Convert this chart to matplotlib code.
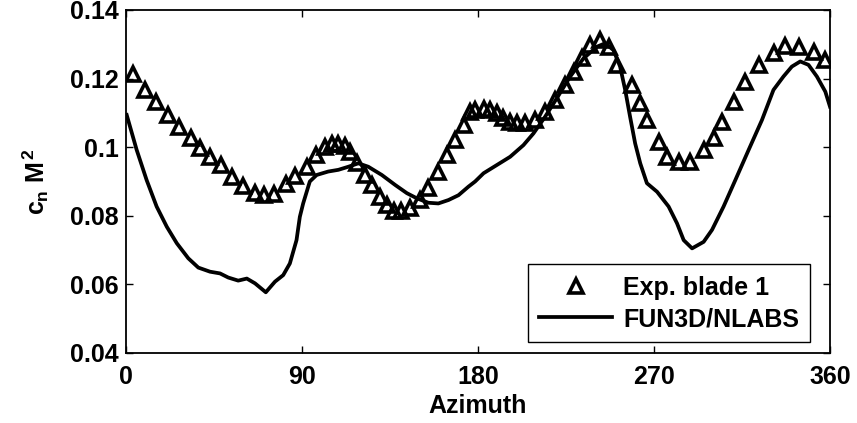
import matplotlib
matplotlib.use('Agg')
import matplotlib.pyplot as plt

exp_azimuth = [3.9, 9.9, 15.5, 21.5, 27.4, 33.2, 38.0, 43.1, 48.6, 54.2, 59.8, 66.1,
               70.7, 75.8, 81.8, 86.6, 92.6, 97.2, 101.9, 105.6, 108.7, 112.1, 114.7,
               118.1, 122.4, 126.1, 130.0, 133.5, 137.2, 140.8, 145.4, 150.5, 154.7,
               159.5, 164.1, 168.4, 172.7, 176.1, 178.6, 182.9, 186.3, 189.7, 193.1,
               196.5, 200.0, 204.2, 209.3, 214.4, 219.5, 224.7, 228.9, 233.2, 237.4,
               242.5, 246.8, 251.1, 258.7, 263.0, 266.4, 272.4, 276.7, 282.6, 288.6,
               295.4, 300.5, 304.8, 310.7, 316.7, 323.5, 331.2, 337.2, 344.3, 351.6,
               357.6]
exp_cnm2 = [0.1213, 0.1167, 0.1133, 0.1094, 0.1060, 0.1028, 0.0997, 0.0972, 0.0948,
            0.0914, 0.0888, 0.0866, 0.0861, 0.0864, 0.0893, 0.0916, 0.0943, 0.0977,
            0.1001, 0.1009, 0.1009, 0.1003, 0.0987, 0.0953, 0.0919, 0.0890, 0.0856,
            0.0831, 0.0815, 0.0815, 0.0822, 0.0846, 0.0880, 0.0929, 0.0977, 0.1021,
            0.1065, 0.1104, 0.1108, 0.1111, 0.1108, 0.1099, 0.1084, 0.1074, 0.1070,
            0.1070, 0.1079, 0.1104, 0.1138, 0.1181, 0.1220, 0.1259, 0.1298, 0.1313,
            0.1293, 0.1240, 0.1181, 0.1128, 0.1079, 0.1016, 0.0972, 0.0958, 0.0958,
            0.0992, 0.1026, 0.1074, 0.1133, 0.1191, 0.1240, 0.1274, 0.1295, 0.1293,
            0.1278, 0.1254]

# FUN3D/NLABS prediction
cfd_azimuth = [0.5, 5.6, 10.7, 15.8, 21.0, 26.1, 32.0, 37.1, 43.1, 48.2, 52.4, 57.5,
               61.9, 66.1, 71.6, 76.3, 80.5, 83.9, 87.3, 89.0, 90.7, 94.1, 97.6, 103.5,
               108.7, 113.8, 118.9, 124.0, 130.9, 137.7, 143.7, 148.8, 154.7, 159.8,
               165.0, 170.1, 175.2, 178.6, 182.9, 189.7, 196.5, 203.3, 208.4, 214.4,
               220.4, 227.2, 234.0, 240.9, 245.1, 249.3, 252.7, 255.3, 257.8, 260.4,
               263.0, 266.4, 271.6, 277.5, 281.8, 285.2, 289.5, 295.4, 299.7, 305.6,
               311.6, 318.4, 325.2, 331.1, 336.2, 340.5, 344.8, 349.0, 353.3, 357.6,
               360.0]
cfd_cnm2 = [0.1094, 0.0992, 0.0904, 0.0827, 0.0768, 0.0720, 0.0676, 0.0649, 0.0637,
            0.0632, 0.0620, 0.0611, 0.0617, 0.0603, 0.0577, 0.0608, 0.0627, 0.0661,
            0.0729, 0.0797, 0.0836, 0.0900, 0.0919, 0.0929, 0.0934, 0.0943, 0.0953,
            0.0943, 0.0919, 0.0890, 0.0866, 0.0851, 0.0838, 0.0836, 0.0846, 0.0860,
            0.0885, 0.0900, 0.0924, 0.0948, 0.0972, 0.1006, 0.1040, 0.1089, 0.1143,
            0.1206, 0.1259, 0.1293, 0.1303, 0.1283, 0.1235, 0.1167, 0.1089, 0.1011,
            0.0953, 0.0895, 0.0870, 0.0827, 0.0778, 0.0729, 0.0705, 0.0724, 0.0759,
            0.0827, 0.0904, 0.0992, 0.1079, 0.1167, 0.1206, 0.1235, 0.1250, 0.1240,
            0.1206, 0.1162, 0.1118]

x_ticks = [0, 90, 180, 270, 360]
y_ticks = [0.04, 0.06, 0.08, 0.10, 0.12, 0.14]
y_tick_labels = ['0.04', '0.06', '0.08', '0.1', '0.12', '0.14']

plt.rcParams['font.family'] = 'Liberation Sans'
plt.rcParams['font.weight'] = 'bold'
plt.rcParams['mathtext.fontset'] = 'custom'
plt.rcParams['mathtext.rm'] = 'Liberation Sans:bold'
plt.rcParams['mathtext.it'] = 'Liberation Sans:bold'
plt.rcParams['mathtext.bf'] = 'Liberation Sans:bold'

FS = 18

fig = plt.figure(figsize=(8.57, 4.23), dpi=100)
ax = fig.add_axes([0.1467, 0.1655, 0.8218, 0.8109])

ax.plot(exp_azimuth, exp_cnm2, linestyle='none', marker='^', markersize=10,
        markerfacecolor='none', markeredgecolor='black', markeredgewidth=2.6,
        label='Exp. blade 1')
ax.plot(cfd_azimuth, cfd_cnm2, color='black', linewidth=2.7, label='FUN3D/NLABS')

ax.set_xlim(0, 360)
ax.set_ylim(0.04, 0.14)
ax.set_xticks(x_ticks)
ax.set_yticks(y_ticks)
ax.set_yticklabels(y_tick_labels)
ax.tick_params(direction='in', top=True, right=True, length=5, width=1,
               labelsize=FS)
ax.tick_params(axis='y', pad=5)
ax.tick_params(axis='x', pad=9)
for spine in ax.spines.values():
    spine.set_linewidth(1.3)

ax.set_xlabel('Azimuth', fontsize=FS, fontweight='bold', labelpad=3)
ax.set_ylabel(r'$c_n\ M^2$', fontsize=FS, labelpad=14)

leg = ax.legend(loc='lower right', bbox_to_anchor=(0.972, 0.031), borderaxespad=0,
                fancybox=False, edgecolor='black', framealpha=1, numpoints=1,
                handlelength=2.9, fontsize=FS, borderpad=0.45, labelspacing=0.3,
                handletextpad=0.45)
leg.get_frame().set_linewidth(1.0)

fig.savefig('out.png', dpi=100, facecolor='white')
